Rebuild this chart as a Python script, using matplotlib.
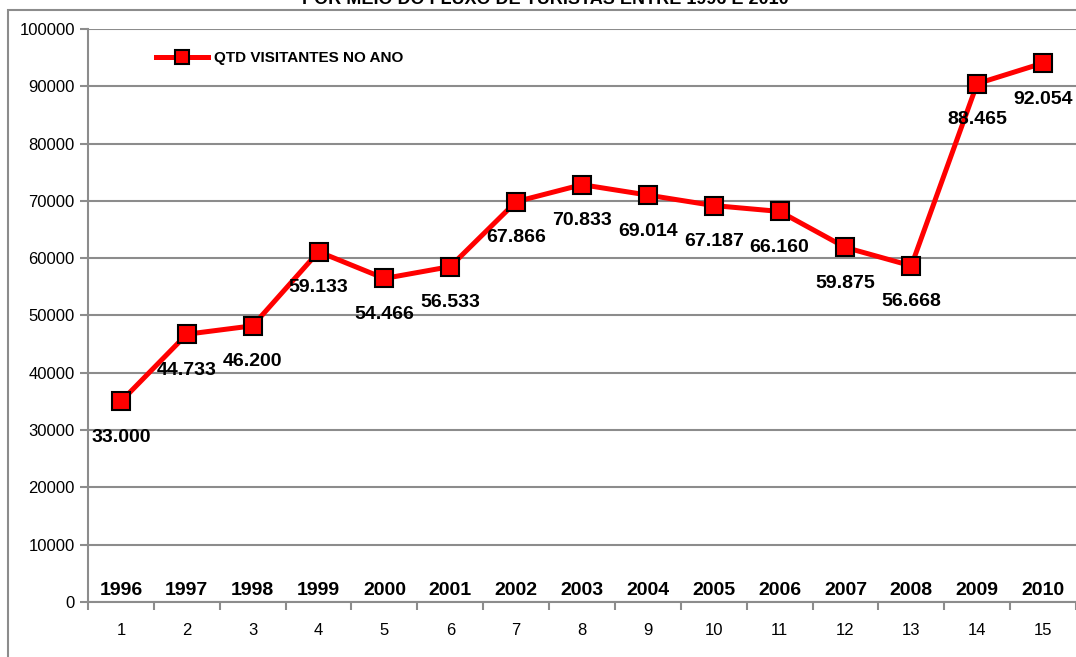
import matplotlib
matplotlib.use("Agg")
import matplotlib.pyplot as plt
from matplotlib.patches import Rectangle
from matplotlib.ticker import FixedLocator, NullFormatter

plt.rcParams['font.family'] = ['Liberation Sans Narrow', 'Liberation Sans', 'DejaVu Sans']

# data
positions = list(range(1, 16))
years = ['1996', '1997', '1998', '1999', '2000', '2001', '2002', '2003',
         '2004', '2005', '2006', '2007', '2008', '2009', '2010']
visitors = [35000, 46733, 48200, 61133, 56466, 58533, 69866, 72833,
            71014, 69187, 68160, 61875, 58668, 90465, 94054]
labels = ['33.000', '44.733', '46.200', '59.133', '54.466', '56.533', '67.866',
          '70.833', '69.014', '67.187', '66.160', '59.875', '56.668', '88.465',
          '92.054']
title = 'POR MEIO DO FLUXO DE TURISTAS ENTRE 1996 E 2010'
series_name = 'QTD VISITANTES NO ANO'

grey = '#8c8c8c'

fig = plt.figure(figsize=(10.76, 6.57), dpi=100)
fig.patches.append(Rectangle((8 / 1076, -0.1), 1.2, 1.1 - 10 / 657,
                             transform=fig.transFigure, fill=False,
                             edgecolor=grey, linewidth=1.5))
fig.text(0.507, 0.994, title, ha='center', va='baseline',
         fontsize=13, fontweight='bold')

ax = fig.add_axes([88 / 1076, 55 / 657, 0.9182, 573 / 657])
ax.plot(positions, visitors, color='red', linewidth=3.6, marker='s',
        markersize=13.5, markerfacecolor='red', markeredgecolor='black',
        markeredgewidth=1.5, label=series_name, zorder=3)

for x, y, t in zip(positions, visitors, labels):
    ax.annotate(t, (x, y), xytext=(0, -26), textcoords='offset points',
                ha='center', va='center', fontsize=14, fontweight='bold')

for x, yr in zip(positions, years):
    ax.text(x, 600, yr, ha='center', va='bottom', fontsize=14,
            fontweight='bold')

ax.set_xlim(0.5, 15.5)
ax.set_ylim(0, 100000)
ax.set_yticks(range(0, 100001, 10000))
ax.yaxis.grid(True, color=grey, linewidth=1.5)
ax.set_axisbelow(True)

ax.xaxis.set_major_locator(FixedLocator([p + 0.5 for p in range(0, 16)]))
ax.xaxis.set_major_formatter(NullFormatter())
ax.xaxis.set_minor_locator(FixedLocator(positions))
ax.set_xticklabels([str(p) for p in positions], minor=True)
ax.tick_params(axis='x', which='minor', length=0, pad=15, labelsize=12)
ax.tick_params(axis='x', which='major', length=6, width=1.5, color=grey)
ax.tick_params(axis='y', length=6, width=1.5, color=grey, labelsize=12)

for side in ['top', 'right']:
    ax.spines[side].set_visible(False)
for side in ['left', 'bottom']:
    ax.spines[side].set_color(grey)
    ax.spines[side].set_linewidth(1.5)

leg = ax.legend(loc='upper left', bbox_to_anchor=(0.055, 0.985), frameon=False,
                prop={'size': 11, 'weight': 'bold'}, handlelength=3.4,
                handletextpad=0.4, markerscale=0.7)

fig.savefig('out.png', dpi=100)
